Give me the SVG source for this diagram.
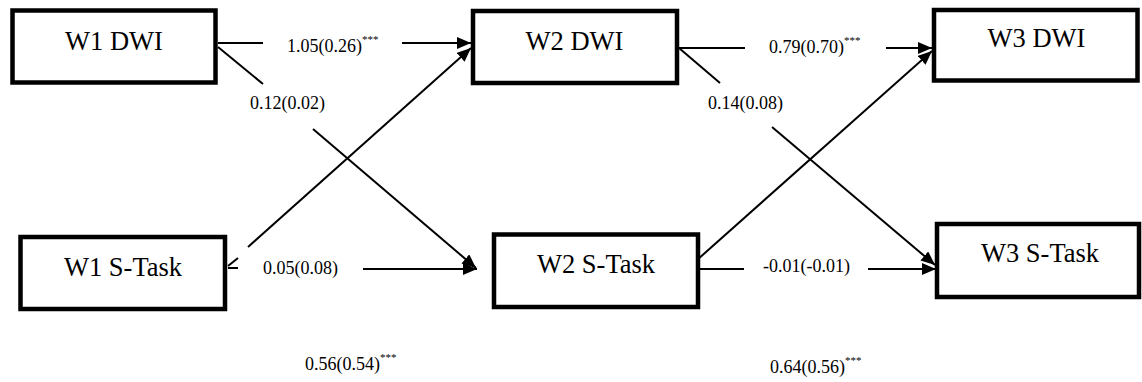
<svg xmlns="http://www.w3.org/2000/svg" width="1142" height="382" viewBox="0 0 1142 382">
<style>
.box{fill:#fff;stroke:#000;stroke-width:4.5}
.nt{font-family:'Liberation Serif','Times New Roman','DejaVu Serif',Times,serif;font-size:26.5px;text-anchor:middle;fill:#000}
.lb{font-family:'Liberation Serif','Times New Roman','DejaVu Serif',Times,serif;font-size:18px;fill:#000}
.sup{font-size:11px}
.ln{fill:none;stroke:#000;stroke-width:2}
</style>
<defs>
<marker id="ah" markerWidth="16" markerHeight="14" refX="14" refY="6" orient="auto" markerUnits="userSpaceOnUse">
<path d="M0,0 L14,6 L0,12 z" fill="#000"/>
</marker>
</defs>
<rect width="1142" height="382" fill="#fff"/>
<g id="connectors">
<path class="ln" d="M218,43 L263,43"/>
<path class="ln" d="M402,43 L471,43" marker-end="url(#ah)"/>
<path class="ln" d="M218,47 L263,84"/>
<path class="ln" d="M313,129 L476,268" marker-end="url(#ah)"/>
<path class="ln" d="M238,258 L228,266"/>
<path class="ln" d="M248,247 L471,48" marker-end="url(#ah)"/>
<path class="ln" d="M228,268 L238,268"/>
<path class="ln" d="M363,269 L477,269" marker-end="url(#ah)"/>
<path class="ln" d="M679,48 L745,48"/>
<path class="ln" d="M886,48 L932,48" marker-end="url(#ah)"/>
<path class="ln" d="M679,48 L720,83"/>
<path class="ln" d="M772,127 L935,265" marker-end="url(#ah)"/>
<path class="ln" d="M688,268 L932,51" marker-end="url(#ah)"/>
<path class="ln" d="M683,269 L744,269"/>
<path class="ln" d="M868,269 L936,269" marker-end="url(#ah)"/>
<text class="lb" x="287" y="52" font-family="Liberation Serif, serif">1.05(0.26)<tspan class="sup" dy="-9">***</tspan></text>
<text class="lb" x="250" y="109" font-family="Liberation Serif, serif">0.12(0.02)</text>
<text class="lb" x="263" y="274" font-family="Liberation Serif, serif">0.05(0.08)</text>
<text class="lb" x="305" y="370" font-family="Liberation Serif, serif">0.56(0.54)<tspan class="sup" dy="-9">***</tspan></text>
<text class="lb" x="769" y="53" font-family="Liberation Serif, serif">0.79(0.70)<tspan class="sup" dy="-9">***</tspan></text>
<text class="lb" x="708" y="109" font-family="Liberation Serif, serif">0.14(0.08)</text>
<text class="lb" x="763" y="272" font-family="Liberation Serif, serif">-0.01(-0.01)</text>
<text class="lb" x="770" y="373" font-family="Liberation Serif, serif">0.64(0.56)<tspan class="sup" dy="-9">***</tspan></text>
</g>
<g id="w1dwi"><rect class="box" x="12.5" y="10.5" width="203" height="72"/><text class="nt" x="114" y="50">W1 DWI</text></g>
<g id="w2dwi"><rect class="box" x="473" y="11" width="204" height="72"/><text class="nt" x="574.5" y="50">W2 DWI</text></g>
<g id="w3dwi"><rect class="box" x="934" y="10" width="203.5" height="70.5"/><text class="nt" x="1036.5" y="47">W3 DWI</text></g>
<g id="w1stask"><rect class="box" x="20.5" y="237" width="204.5" height="72"/><text class="nt" x="123" y="276">W1 S-Task</text></g>
<g id="w2stask"><rect class="box" x="494" y="234.5" width="204" height="72.5"/><text class="nt" x="596" y="273">W2 S-Task</text></g>
<g id="w3stask"><rect class="box" x="937" y="224" width="202" height="73"/><text class="nt" x="1040" y="262">W3 S-Task</text></g>
</svg>
